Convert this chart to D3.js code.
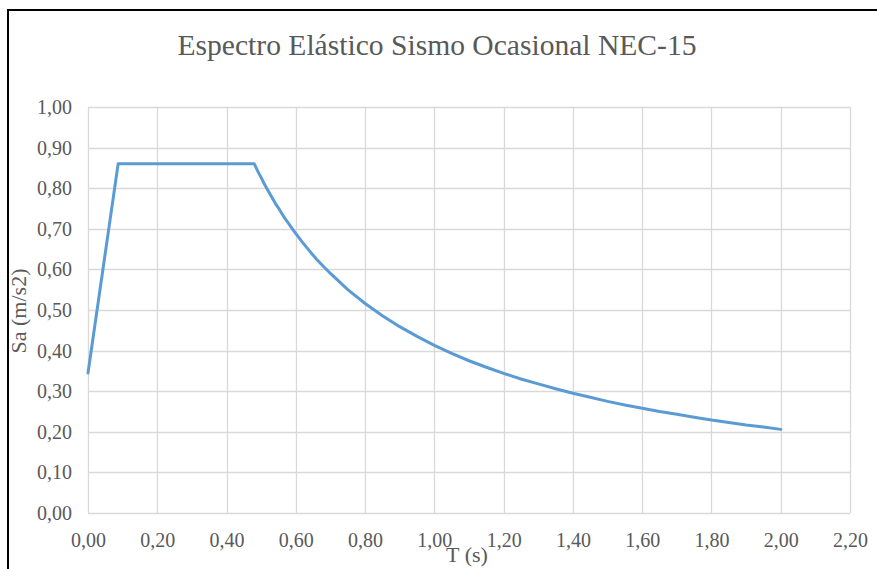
<!DOCTYPE html>
<html>
<head>
<meta charset="utf-8">
<script src="https://cdn.jsdelivr.net/npm/d3@7"></script>
<style>
  html, body { margin: 0; padding: 0; background: #fff; }
  svg { display: block; }
</style>
</head>
<body>
<svg id="chart" width="877" height="569"></svg>
<script>
// Elastic spectrum, NEC-15: period T (s) and spectral acceleration Sa
const periods = [0.00, 0.087, 0.48, 0.49, 0.50, 0.51, 0.52, 0.53, 0.54, 0.55, 0.56, 0.57, 0.58, 0.59,
  0.60, 0.62, 0.64, 0.66, 0.68, 0.70, 0.75, 0.80, 0.85, 0.90, 0.95,
  1.00, 1.05, 1.10, 1.15, 1.20, 1.25, 1.30, 1.35, 1.40, 1.45, 1.50, 1.55, 1.60, 1.65,
  1.70, 1.75, 1.80, 1.85, 1.90, 1.95, 2.00];
const saValues = [0.345, 0.860, 0.860, 0.842, 0.826, 0.809, 0.794, 0.779, 0.764, 0.751, 0.737, 0.724, 0.712, 0.700,
  0.688, 0.666, 0.645, 0.625, 0.607, 0.590, 0.550, 0.516, 0.486, 0.459, 0.435,
  0.413, 0.393, 0.375, 0.359, 0.344, 0.330, 0.318, 0.306, 0.295, 0.285, 0.275, 0.266, 0.258, 0.250,
  0.243, 0.236, 0.229, 0.223, 0.217, 0.212, 0.206];
const xTicks = [0, 0.2, 0.4, 0.6, 0.8, 1.0, 1.2, 1.4, 1.6, 1.8, 2.0, 2.2];
const yTicks = [0, 0.1, 0.2, 0.3, 0.4, 0.5, 0.6, 0.7, 0.8, 0.9, 1.0];
const titleText = "Espectro Elástico Sismo Ocasional NEC-15";
const xTitle = "T (s)";
const yTitle = "Sa (m/s2)";

const svg = d3.select("#chart");
const font = "'Liberation Serif', 'DejaVu Serif', serif";
const fmt = v => v.toFixed(2).replace(".", ",");

const plot = { left: 88, right: 850, top: 107, bottom: 513 };
const x = d3.scaleLinear().domain([0, 2.2]).range([plot.left, plot.right]);
const y = d3.scaleLinear().domain([0, 1.0]).range([plot.bottom, plot.top]);

// frame lines on the top and left
svg.append("line").attr("x1", 7).attr("x2", 877).attr("y1", 10).attr("y2", 10)
  .attr("stroke", "#000").attr("stroke-width", 2);
svg.append("line").attr("x1", 8).attr("x2", 8).attr("y1", 9).attr("y2", 569)
  .attr("stroke", "#000").attr("stroke-width", 2);

// gridlines
const grid = svg.append("g");
grid.selectAll("line.h").data(yTicks).join("line")
  .attr("x1", plot.left).attr("x2", plot.right)
  .attr("y1", d => Math.round(y(d)) + 0.5).attr("y2", d => Math.round(y(d)) + 0.5)
  .attr("stroke", "#d9d9d9").attr("stroke-width", 1.3);
grid.selectAll("line.v").data(xTicks).join("line")
  .attr("y1", plot.top).attr("y2", plot.bottom)
  .attr("x1", d => Math.round(x(d)) + 0.5).attr("x2", d => Math.round(x(d)) + 0.5)
  .attr("stroke", "#d9d9d9").attr("stroke-width", 1.3);

// tick labels via axes with no domain or tick marks
const yAxis = svg.append("g").attr("transform", `translate(${plot.left},0)`)
  .call(d3.axisLeft(y).tickValues(yTicks).tickFormat(fmt).tickSize(0).tickPadding(16));
const xAxis = svg.append("g").attr("transform", `translate(0,${plot.bottom})`)
  .call(d3.axisBottom(x).tickValues(xTicks).tickFormat(fmt).tickSize(0).tickPadding(20));
[yAxis, xAxis].forEach(a => {
  a.select(".domain").remove();
  a.selectAll("text").attr("fill", "#595959").style("font-family", font).style("font-size", "20px");
});

// spectrum curve
const pts = periods.map((t, i) => [t, saValues[i]]);
svg.append("path").datum(pts)
  .attr("fill", "none").attr("stroke", "#5b9bd5").attr("stroke-width", 3)
  .attr("stroke-linejoin", "round").attr("stroke-linecap", "round")
  .attr("d", d3.line().x(d => x(d[0])).y(d => y(d[1])));

// titles
svg.append("text").attr("x", 437).attr("y", 55).attr("text-anchor", "middle")
  .attr("textLength", 519).attr("lengthAdjust", "spacingAndGlyphs")
  .attr("fill", "#595959").style("font-family", font).style("font-size", "29px").text(titleText);
svg.append("text").attr("x", 467).attr("y", 562).attr("text-anchor", "middle")
  .attr("fill", "#595959").style("font-family", font).style("font-size", "22px").text(xTitle);
svg.append("text").attr("transform", "translate(26,311) rotate(-90)").attr("text-anchor", "middle")
  .attr("fill", "#595959").style("font-family", font).style("font-size", "22px").text(yTitle);
</script>
</body>
</html>
